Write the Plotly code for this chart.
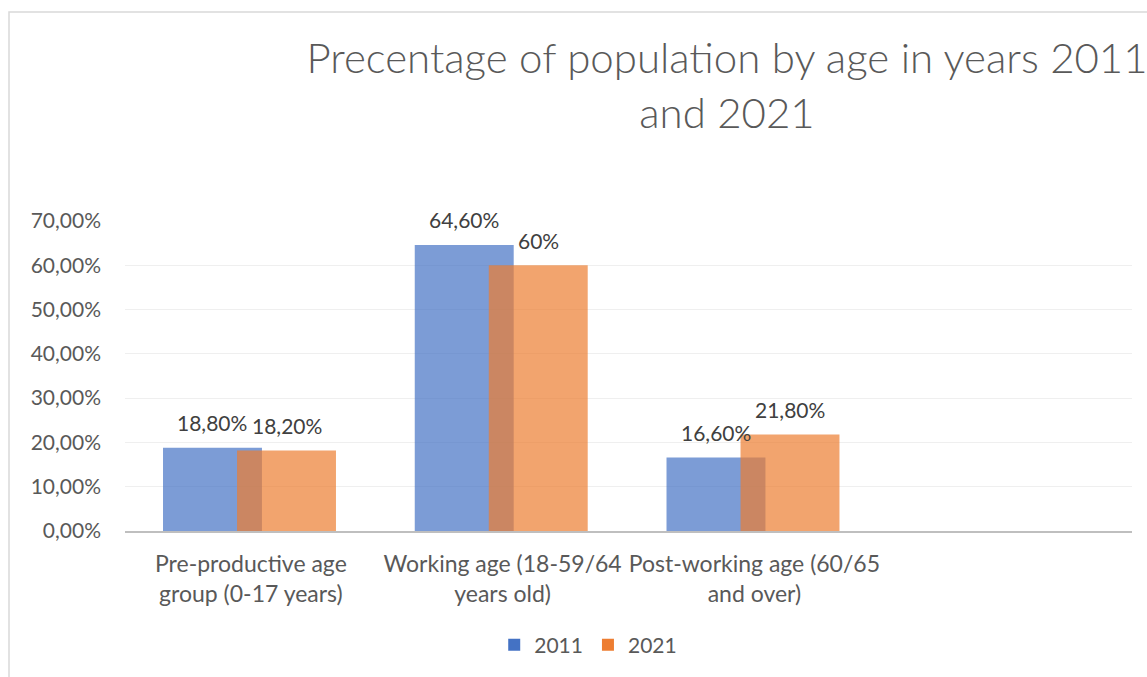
import plotly.graph_objects as go

# Age groups on the x axis (a fourth, empty slot is kept at the right)
categories = [
    "Pre-productive age<br>group (0-17 years)",
    "Working age (18-59/64<br>years old)",
    "Post-working age (60/65<br>and over)",
]
share_2011 = [0.188, 0.646, 0.166]
share_2021 = [0.182, 0.600, 0.218]
labels_2011 = ["18,80%", "64,60%", "16,60%"]
labels_2021 = ["18,20%", "60%", "21,80%"]

y_ticks = [0.0, 0.1, 0.2, 0.3, 0.4, 0.5, 0.6, 0.7]
y_tick_text = ["0,00%", "10,00%", "20,00%", "30,00%", "40,00%", "50,00%", "60,00%", "70,00%"]

FONT = "Lato"
AXIS_GREY = "#595959"
LABEL_GREY = "#404040"
BLUE = "#4472C4"
ORANGE = "#ED7D31"

BAR_W = 0.393
OFF_2011 = -0.349
OFF_2021 = -0.055

x_idx = list(range(len(categories)))

fig = go.Figure()
fig.add_trace(go.Bar(
    name="2011", x=x_idx, y=share_2011,
    width=BAR_W, offset=OFF_2011,
    marker=dict(color=BLUE, opacity=0.7, line=dict(width=0)),
))
fig.add_trace(go.Bar(
    name="2021", x=x_idx, y=share_2021,
    width=BAR_W, offset=OFF_2021,
    marker=dict(color=ORANGE, opacity=0.7, line=dict(width=0)),
))

# value labels above each bar
for vals, texts, off in ((share_2011, labels_2011, OFF_2011), (share_2021, labels_2021, OFF_2021)):
    for i, (v, t) in enumerate(zip(vals, texts)):
        fig.add_annotation(
            x=i + off + BAR_W / 2, y=v, text=t, showarrow=False,
            xanchor="center", yanchor="middle", yshift=25,
            font=dict(family=FONT, size=21, color=LABEL_GREY),
        )

# chart frame
fig.add_shape(
    type="path", xref="paper", yref="paper",
    path="M -0.1152,-0.5 L -0.1152,1.674 L 1.2,1.674",
    line=dict(color="#d9d9d9", width=1.5),
)

fig.update_layout(
    width=1147, height=677,
    margin=dict(l=125, r=15, t=221, b=146),
    paper_bgcolor="white", plot_bgcolor="white",
    barmode="overlay",
    title=dict(
        text="Precentage of population by age in years 2011<br>and 2021",
        x=727 / 1147, xanchor="center", y=1 - 73 / 677, yanchor="middle",
        font=dict(family=FONT, size=42, color=AXIS_GREY, weight=300),
    ),
    font=dict(family=FONT, color=AXIS_GREY),
    showlegend=True,
    legend=dict(
        orientation="h", x=0.46, xanchor="center", y=-0.368, yanchor="middle",
        font=dict(family=FONT, size=21, color=AXIS_GREY),
        itemwidth=30, traceorder="normal",
    ),
    xaxis=dict(
        range=[-0.5, 3.5], tickmode="array", tickvals=x_idx, ticktext=categories,
        showgrid=False, zeroline=False, showline=True, linecolor="#bfbfbf", linewidth=2,
        ticks="", tickfont=dict(family=FONT, size=23, color=AXIS_GREY),
        ticklabelstandoff=11, fixedrange=True,
    ),
    yaxis=dict(
        range=[0, 0.7], tickmode="array", tickvals=y_ticks, ticktext=y_tick_text,
        showgrid=True, gridcolor="#efefef", gridwidth=1, zeroline=False,
        showline=False, ticks="", ticklabelstandoff=23,
        tickfont=dict(family=FONT, size=21, color=AXIS_GREY), fixedrange=True,
    ),
)

fig.write_html("out.html")
